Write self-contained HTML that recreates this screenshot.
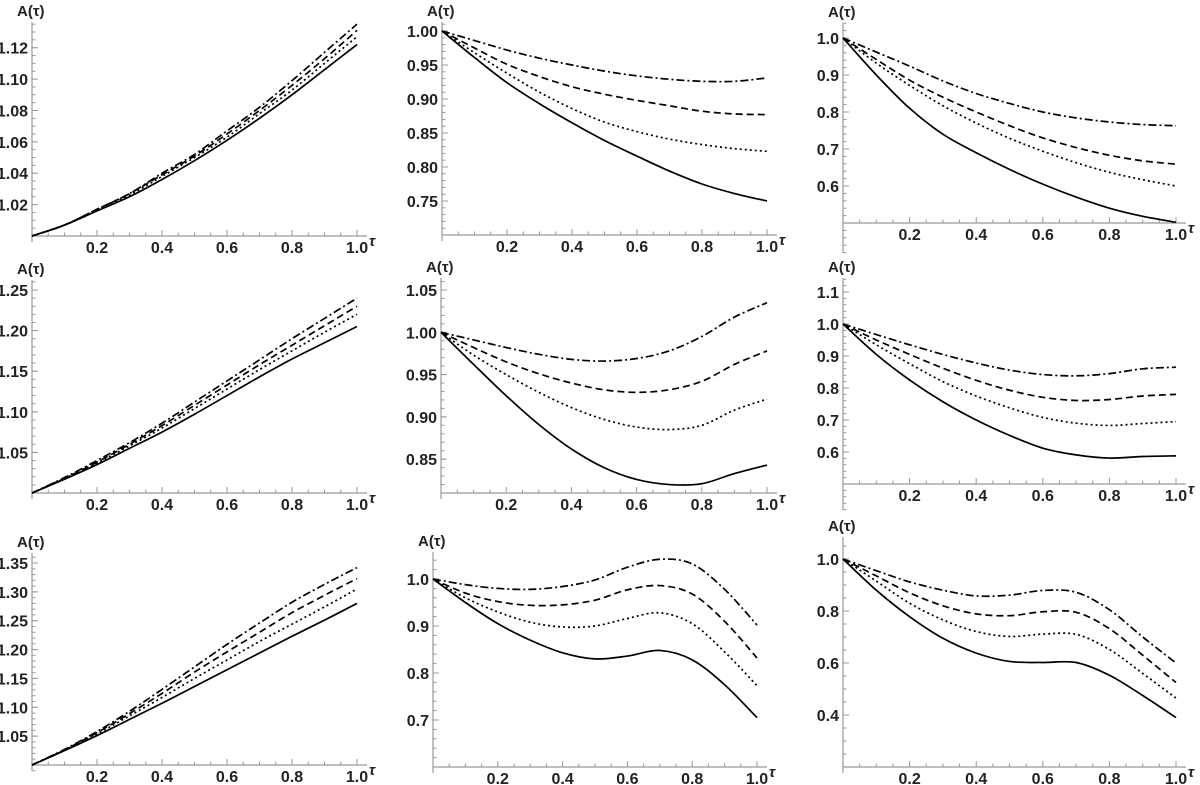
<!DOCTYPE html>
<html><head><meta charset="utf-8">
<style>
html,body{margin:0;padding:0;background:#fff;}
svg{display:block;font-family:"Liberation Sans",sans-serif;}
.tl{font-size:16px;font-weight:bold;fill:#222;}
.al{font-size:15px;font-weight:bold;fill:#222;}
</style></head>
<body>
<svg id="fig" width="1200" height="785" viewBox="0 0 1200 785"></svg>
<script>
// x samples (tau)
const tauValues = [0,0.1,0.2,0.3,0.4,0.5,0.6,0.7,0.8,0.9,1.0];
const xTickLabels = ["0.2","0.4","0.6","0.8","1.0"];
const xTickValues = [0.2,0.4,0.6,0.8,1.0];

// Panel 1 (top-left)
const p1Solid   = [1,1.007,1.016,1.025,1.036,1.048,1.061,1.075,1.090,1.106,1.122];
const p1Dotted  = [1,1.007,1.016,1.026,1.038,1.050,1.063,1.078,1.093,1.110,1.127];
const p1Dashed  = [1,1.007,1.017,1.027,1.039,1.051,1.065,1.080,1.096,1.113,1.131];
const p1DotDash = [1,1.007,1.017,1.027,1.040,1.052,1.067,1.082,1.099,1.117,1.135];
const p1YTicks  = ["1.02","1.04","1.06","1.08","1.10","1.12"];
// Panel 2 (top-middle)
const p2Solid   = [1,0.961,0.924,0.893,0.865,0.839,0.816,0.794,0.775,0.761,0.750];
const p2Dotted  = [1,0.968,0.938,0.910,0.886,0.866,0.852,0.841,0.833,0.827,0.823];
const p2Dashed  = [1,0.975,0.951,0.933,0.918,0.907,0.898,0.890,0.882,0.878,0.877];
const p2DotDash = [1,0.986,0.972,0.960,0.950,0.941,0.934,0.929,0.926,0.926,0.931];
const p2YTicks  = ["0.75","0.80","0.85","0.90","0.95","1.00"];
// Panel 3 (top-right)
const p3Solid   = [1,0.900,0.810,0.740,0.690,0.645,0.605,0.570,0.540,0.518,0.502];
const p3Dotted  = [1,0.932,0.872,0.817,0.770,0.729,0.694,0.663,0.637,0.617,0.600];
const p3Dashed  = [1,0.942,0.886,0.840,0.800,0.763,0.730,0.704,0.683,0.668,0.659];
const p3DotDash = [1,0.962,0.924,0.884,0.850,0.823,0.800,0.784,0.773,0.766,0.763];
const p3YTicks  = ["0.6","0.7","0.8","0.9","1.0"];
// Panel 4 (middle-left)
const p4Solid   = [1,1.017,1.035,1.055,1.075,1.097,1.120,1.143,1.165,1.185,1.205];
const p4Dotted  = [1,1.018,1.037,1.058,1.080,1.104,1.128,1.152,1.175,1.198,1.220];
const p4Dashed  = [1,1.018,1.038,1.060,1.083,1.108,1.133,1.158,1.182,1.206,1.230];
const p4DotDash = [1,1.019,1.040,1.062,1.086,1.112,1.138,1.164,1.190,1.215,1.240];
const p4YTicks  = ["1.05","1.10","1.15","1.20","1.25"];
// Panel 5 (center)
const p5Solid   = [1,0.962,0.925,0.891,0.862,0.840,0.826,0.820,0.821,0.833,0.843];
const p5Dotted  = [1,0.973,0.950,0.929,0.911,0.897,0.888,0.885,0.890,0.908,0.921];
const p5Dashed  = [1,0.982,0.965,0.951,0.940,0.932,0.929,0.932,0.942,0.962,0.978];
const p5DotDash = [1,0.991,0.982,0.974,0.968,0.966,0.969,0.978,0.995,1.018,1.035];
const p5YTicks  = ["0.85","0.90","0.95","1.00","1.05"];
// Panel 6 (middle-right)
const p6Solid   = [1,0.905,0.825,0.757,0.700,0.652,0.612,0.591,0.581,0.586,0.588];
const p6Dotted  = [1,0.935,0.876,0.820,0.775,0.738,0.708,0.690,0.683,0.689,0.695];
const p6Dashed  = [1,0.950,0.905,0.862,0.824,0.793,0.771,0.761,0.764,0.775,0.780];
const p6DotDash = [1,0.967,0.935,0.905,0.878,0.856,0.842,0.838,0.845,0.860,0.865];
const p6YTicks  = ["0.6","0.7","0.8","0.9","1.0","1.1"];
// Panel 7 (bottom-left)
const p7Solid   = [1,1.025,1.051,1.079,1.107,1.136,1.165,1.194,1.223,1.251,1.280];
const p7Dotted  = [1,1.026,1.054,1.085,1.117,1.150,1.182,1.214,1.244,1.274,1.305];
const p7Dashed  = [1,1.026,1.056,1.089,1.124,1.161,1.196,1.230,1.264,1.294,1.323];
const p7DotDash = [1,1.027,1.058,1.093,1.131,1.170,1.209,1.246,1.282,1.313,1.342];
const p7YTicks  = ["1.05","1.10","1.15","1.20","1.25","1.30","1.35"];
// Panel 8 (bottom-middle)
const p8Solid   = [1,0.950,0.905,0.870,0.843,0.830,0.836,0.848,0.828,0.775,0.705];
const p8Dotted  = [1,0.960,0.930,0.908,0.898,0.900,0.916,0.928,0.905,0.845,0.773];
const p8Dashed  = [1,0.970,0.952,0.944,0.945,0.955,0.977,0.986,0.968,0.910,0.832];
const p8DotDash = [1,0.988,0.980,0.978,0.984,0.998,1.025,1.042,1.032,0.978,0.902];
const p8YTicks  = ["0.7","0.8","0.9","1.0"];
// Panel 9 (bottom-right)
const p9Solid   = [1,0.880,0.778,0.695,0.638,0.606,0.602,0.602,0.553,0.475,0.390];
const p9Dotted  = [1,0.915,0.830,0.766,0.721,0.702,0.711,0.710,0.652,0.560,0.465];
const p9Dashed  = [1,0.935,0.870,0.820,0.789,0.782,0.797,0.795,0.732,0.630,0.525];
const p9DotDash = [1,0.955,0.912,0.880,0.858,0.861,0.879,0.872,0.805,0.700,0.600];
const p9YTicks  = ["0.4","0.6","0.8","1.0"];

const panelSeries = [
  [p1Solid,p1Dotted,p1Dashed,p1DotDash],[p2Solid,p2Dotted,p2Dashed,p2DotDash],[p3Solid,p3Dotted,p3Dashed,p3DotDash],
  [p4Solid,p4Dotted,p4Dashed,p4DotDash],[p5Solid,p5Dotted,p5Dashed,p5DotDash],[p6Solid,p6Dotted,p6Dashed,p6DotDash],
  [p7Solid,p7Dotted,p7Dashed,p7DotDash],[p8Solid,p8Dotted,p8Dashed,p8DotDash],[p9Solid,p9Dotted,p9Dashed,p9DotDash]];
const panelYTicks = [p1YTicks,p2YTicks,p3YTicks,p4YTicks,p5YTicks,p6YTicks,p7YTicks,p8YTicks,p9YTicks];
const panelYMin = [1.0,0.70,0.5,1.0,0.81,0.5,1.0,0.6,0.2];
const panelYMinorStep = [0.005,0.01,0.02,0.01,0.01,0.02,0.01,0.02,0.05];

// layout (pixel geometry)
const layout = [
  {x0:32,x1:357,y0:236,ref:1.12,refY:47.7,top:22,below:6},
  {x0:442,x1:767,y0:235,ref:0.75,refY:201,top:22,below:6},
  {x0:843,x1:1176,y0:223,ref:0.6,refY:186,top:23,below:30},
  {x0:32,x1:357,y0:493,ref:1.25,refY:290,top:280,below:6},
  {x0:441,x1:767,y0:493,ref:1.05,refY:290,top:278,below:6},
  {x0:843,x1:1176,y0:484,ref:1.1,refY:292,top:278,below:26},
  {x0:32,x1:357,y0:765,ref:1.35,refY:563,top:553,below:6},
  {x0:433,x1:757,y0:767,ref:0.7,refY:720,top:552,below:6},
  {x0:843,x1:1176,y0:767,ref:0.4,refY:715,top:537,below:6}];
const dashStyles = [null,"2,3","7,4","8,3,2,3"];
const seriesNames = ["solid","dotted","dashed","dot-dash"];

const NS="http://www.w3.org/2000/svg";
const svg=document.getElementById('fig');
function mk(tag,attrs,parent){const e=document.createElementNS(NS,tag);for(const k in attrs)e.setAttribute(k,attrs[k]);(parent||svg).appendChild(e);return e;}

layout.forEach((L,pi)=>{
  const g=mk('g',{});
  
  
  const ymin=panelYMin[pi];
  const k=(L.y0-L.refY)/(L.ref-ymin);
  const xs=t=>L.x0+t*(L.x1-L.x0);
  const ys=v=>L.y0-(v-ymin)*k;
  const ymaxV=ymin+(L.y0-L.top)/k;
  const xa=mk('line',{x1:L.x0,y1:L.y0,x2:L.x1+10,y2:L.y0,stroke:'#999','stroke-width':1.2},g);
  
  
  const ya=mk('line',{x1:L.x0,y1:L.y0+L.below,x2:L.x0,y2:L.top,stroke:'#999','stroke-width':1.2},g);
  
  
  for(let i=1;i<=20;i++){const t=i*0.05;const big=(i%4===0);
    mk('line',{x1:xs(t),y1:L.y0,x2:xs(t),y2:L.y0-(big?6:3.5),stroke:'#999','stroke-width':1},g);}
  xTickValues.forEach((t,i)=>{const tx=mk('text',{x:xs(t),y:L.y0+17,'text-anchor':'middle',class:'tl'},g);tx.textContent=xTickLabels[i];
    
    });
  const st=panelYMinorStep[pi];
  for(let v=Math.ceil(ymin/st-1e-6)*st;v<=ymaxV+1e-9;v+=st){
    mk('line',{x1:L.x0,y1:ys(v),x2:L.x0+3.5,y2:ys(v),stroke:'#999','stroke-width':1},g);}
  for(let v=ymin-st;ys(v)<=L.y0+L.below;v-=st){mk('line',{x1:L.x0,y1:ys(v),x2:L.x0+3.5,y2:ys(v),stroke:'#999','stroke-width':1},g);}
  panelYTicks[pi].forEach(lbl=>{const v=parseFloat(lbl);
    mk('line',{x1:L.x0,y1:ys(v),x2:L.x0+6,y2:ys(v),stroke:'#999','stroke-width':1},g);
    const tx=mk('text',{x:L.x0-4,y:ys(v)+6,'text-anchor':'end',class:'tl'},g);tx.textContent=lbl;
    
    });
  const al=mk('text',{x:L.x0-15,y:L.top-6,class:'al'},g);al.textContent='A(τ)';
  
  
  const tl=mk('text',{x:L.x1+12,y:L.y0+10,class:'al','font-style':'italic'},g);tl.textContent='τ';
  
  
  panelSeries[pi].forEach((arr,si)=>{
    const P=arr.map((v,i)=>[xs(tauValues[i]),ys(v)]);
    let d='M'+P[0][0].toFixed(2)+','+P[0][1].toFixed(2);
    for(let i=0;i<P.length-1;i++){
      const p0=P[Math.max(0,i-1)],p1=P[i],p2=P[i+1],p3=P[Math.min(P.length-1,i+2)];
      const c1=[p1[0]+(p2[0]-p0[0])/6,p1[1]+(p2[1]-p0[1])/6];
      const c2=[p2[0]-(p3[0]-p1[0])/6,p2[1]-(p3[1]-p1[1])/6];
      d+=' C'+c1[0].toFixed(2)+','+c1[1].toFixed(2)+' '+c2[0].toFixed(2)+','+c2[1].toFixed(2)+' '+p2[0].toFixed(2)+','+p2[1].toFixed(2);
    }
    const a={d:d,fill:'none',stroke:'#000','stroke-width':1.7};
    if(dashStyles[si])a['stroke-dasharray']=dashStyles[si];
    const p=mk('path',a,g);
    
    
  });
});
</script>
</body></html>
